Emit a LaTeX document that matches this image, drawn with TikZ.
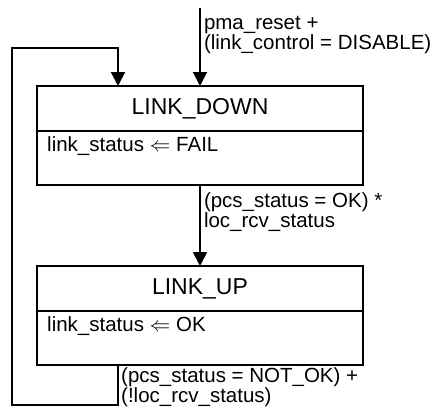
\documentclass[tikz,border=0pt]{standalone}
\usepackage{fontspec}
\setmainfont{Liberation Sans}
\usetikzlibrary{positioning, arrows.meta}

\tikzset{
  statetitle/.style={draw, line width=2pt, minimum width=326pt, minimum height=45pt,
    inner sep=0pt, outer sep=0pt, font=\fontsize{23}{27}\selectfont},
  statebody/.style={draw, line width=2pt, minimum width=326pt, minimum height=54pt,
    inner sep=0pt, outer sep=0pt},
  action/.style={inner sep=0pt, font=\fontsize{20.5}{22}\selectfont},
  lbl/.style={inner sep=0pt, align=left, font=\fontsize{20.5}{19}\selectfont},
  trans/.style={line width=2pt, -{Triangle[width=14pt,length=14pt]}},
}

\begin{document}
\begin{tikzpicture}[x=1pt, y=-1pt]
\useasboundingbox (0,0) rectangle (432,410);

% states
\node[statetitle] (down) at (200,108.5) {LINK\_DOWN};
\node[statebody, below=0pt of down] (downbody) {};
\node[action, below right=5pt and 10pt of downbody.north west] (downact) {link\_status $\Leftarrow$ FAIL};

\node[statetitle] (up) at (200,288.5) {LINK\_UP};
\node[statebody, below=0pt of up] (upbody) {};
\node[action, below right=5pt and 10pt of upbody.north west] (upact) {link\_status $\Leftarrow$ OK};

% transitions
\coordinate (entry) at (200,8);
\coordinate (lb) at (118,48);
\coordinate (lo) at (12,405);

\draw[trans] (entry) -- node[lbl, pos=0.09, anchor=north west, xshift=3pt]
  {pma\_reset +\\(link\_control = DISABLE)} (down.north);

\draw[trans] (downbody.south) -- node[lbl, pos=0.08, anchor=north west, xshift=3pt]
  {(pcs\_status = OK) *\\loc\_rcv\_status} (up.north);

\draw[trans] (upbody.south -| lb) |- (lo) |- (lb) -- (down.north -| lb);
\node[lbl, below right=2pt and 3pt of upbody.south -| lb] (loopl)
  {(pcs\_status = NOT\_OK) +\\(!loc\_rcv\_status)};
\end{tikzpicture}
\end{document}
